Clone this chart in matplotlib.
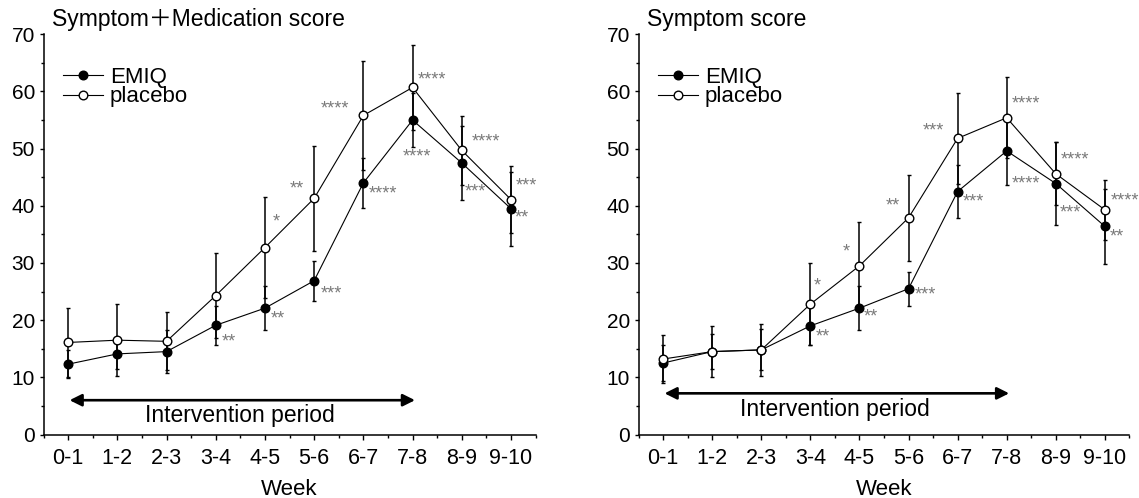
import matplotlib
matplotlib.use("Agg")
import matplotlib.pyplot as plt
from matplotlib import font_manager
from matplotlib.lines import Line2D
from matplotlib.ticker import MultipleLocator

weeks = ["0-1", "1-2", "2-3", "3-4", "4-5", "5-6", "6-7", "7-8", "8-9", "9-10"]

# Symptom + Medication score
emiq_sm = [12.3, 14.1, 14.5, 19.1, 22.1, 26.9, 44.0, 55.0, 47.5, 39.5]
emiq_sm_sd = [2.4, 2.7, 3.8, 3.4, 3.8, 3.5, 4.3, 4.7, 6.5, 6.5]
plac_sm = [16.1, 16.5, 16.3, 24.3, 32.7, 41.3, 55.8, 60.7, 49.7, 41.1]
plac_sm_sd = [6.1, 6.3, 5.1, 7.4, 8.8, 9.2, 9.5, 7.4, 6.0, 5.8]
sig_emiq_sm = ["", "", "", "**", "**", "***", "****", "****", "***", "**"]
sig_plac_sm = ["", "", "", "", "*", "**", "****", "****", "****", "***"]

# Symptom score
emiq_s = [12.5, 14.5, 14.8, 19.0, 22.1, 25.5, 42.5, 49.6, 43.9, 36.4]
emiq_s_sd = [3.1, 3.0, 3.6, 3.3, 3.8, 3.0, 4.6, 5.9, 7.2, 6.5]
plac_s = [13.2, 14.5, 14.8, 22.8, 29.5, 37.9, 51.8, 55.4, 45.6, 39.3]
plac_s_sd = [4.2, 4.4, 4.5, 7.2, 7.6, 7.5, 7.9, 7.1, 5.5, 5.2]
sig_emiq_s = ["", "", "", "**", "**", "***", "***", "****", "***", "**"]
sig_plac_s = ["", "", "", "*", "*", "**", "***", "****", "****", "****"]

# where the stars sit next to each marker (pixels, x right / y down)
off_emiq_sm = [None, None, None, (13, 17), (13, 11), (17, 13), (20, 11), (4, 37), (14, 29), (11, 9)]
off_plac_sm = [None, None, None, None, (11, -26), (-17, -9), (-28, -7), (19, -7), (24, -8), (15, -14)]
off_emiq_s = [None, None, None, (12, 11), (11, 9), (17, 6), (16, 10), (19, 33), (15, 29), (12, 11)]
off_plac_s = [None, None, None, (7, -18), (-13, -14), (-16, -12), (-24, -7), (19, -14), (19, -14), (20, -9)]

names = {f.name for f in font_manager.fontManager.ttflist}
BASE = "Liberation Sans" if "Liberation Sans" in names else "DejaVu Sans"
NARROW = "Liberation Sans Narrow" if "Liberation Sans Narrow" in names else BASE
plt.rcParams["font.family"] = [BASE, "Noto Sans CJK JP", "DejaVu Sans"]

STAR = "#7a7a7a"
MS = 6.2


def panel(ax, title, emiq, emiq_sd, plac, plac_sd, sig_e, sig_p, off_e, off_p, arrow_y, text_y):
    x = list(range(len(weeks)))
    ax.errorbar(x, emiq, yerr=emiq_sd, fmt="-o", color="black", mfc="black", mec="black",
                ms=MS, lw=0.8, elinewidth=1.1, capsize=1.6, capthick=1.0, zorder=3)
    ax.errorbar(x, plac, yerr=plac_sd, fmt="-o", color="black", mfc="white", mec="black",
                ms=MS, mew=1.0, lw=0.8, elinewidth=1.1, capsize=1.6, capthick=1.0, zorder=4)
    for vals, sig, off in ((emiq, sig_e, off_e), (plac, sig_p, off_p)):
        for i, s in enumerate(sig):
            if s:
                ax.annotate(s, xy=(i, vals[i]), xytext=(off[i][0], -off[i][1]),
                            textcoords="offset pixels", ha="center", va="center",
                            fontsize=13, color=STAR, annotation_clip=False)
    ax.annotate("", xy=(7.05, arrow_y), xytext=(0.03, arrow_y),
                arrowprops=dict(arrowstyle="<|-|>", lw=1.9, color="black",
                                mutation_scale=18, shrinkA=0, shrinkB=0))
    ax.text(3.5, text_y, "Intervention period", ha="center", va="center", fontsize=16.5)
    ax.set_xlim(-0.5, 9.5)
    ax.set_ylim(0, 70)
    ax.set_xticks(x)
    ax.set_xticklabels(weeks, fontsize=15.5, family=NARROW)
    ax.xaxis.set_minor_locator(MultipleLocator(0.5))
    ax.yaxis.set_major_locator(MultipleLocator(10))
    ax.yaxis.set_minor_locator(MultipleLocator(5))
    ax.tick_params(axis="y", which="major", direction="out", length=3.2, width=1, labelsize=15, pad=3)
    ax.tick_params(axis="y", which="minor", direction="out", length=2.2, width=1)
    ax.tick_params(axis="x", which="major", direction="out", length=3.8, width=1, pad=6)
    ax.tick_params(axis="x", which="minor", direction="out", length=2.4, width=1)
    for side in ("top", "right"):
        ax.spines[side].set_visible(False)
    for side in ("left", "bottom"):
        ax.spines[side].set_linewidth(1.1)
    ax.set_xlabel("Week", fontsize=16, labelpad=7)
    ax.text(0.0165, 1.0207, title, transform=ax.transAxes, ha="left", va="baseline", fontsize=16.5)
    handles = [
        Line2D([], [], color="black", lw=0.8, marker="o", ms=MS, mfc="black", mec="black"),
        Line2D([], [], color="black", lw=0.8, marker="o", ms=MS, mfc="white", mec="black"),
    ]
    ax.legend(handles, ["EMIQ", "placebo"], loc="upper left", bbox_to_anchor=(0.039, 0.918),
              frameon=False, fontsize=16, handlelength=1.83, handletextpad=0.3,
              labelspacing=-0.08, borderpad=0, borderaxespad=0)


fig = plt.figure(figsize=(11.39, 4.98), dpi=100)
ax1 = fig.add_axes([0.0382, 0.1275, 0.432, 0.8036])
ax2 = fig.add_axes([0.5606, 0.1275, 0.431, 0.8036])

panel(ax1, "Symptom\uff0bMedication score", emiq_sm, emiq_sm_sd, plac_sm, plac_sm_sd,
      sig_emiq_sm, sig_plac_sm, off_emiq_sm, off_plac_sm, 6.0, 3.3)
panel(ax2, "Symptom score", emiq_s, emiq_s_sd, plac_s, plac_s_sd,
      sig_emiq_s, sig_plac_s, off_emiq_s, off_plac_s, 7.2, 4.4)

fig.savefig("out.png", dpi=100)
